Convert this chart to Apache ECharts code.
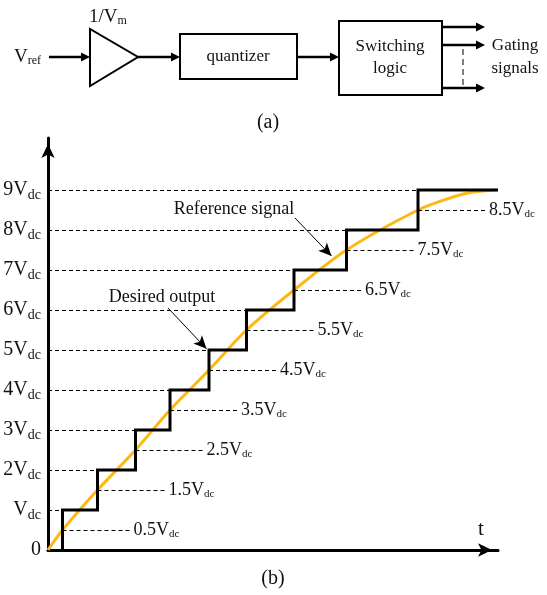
<!DOCTYPE html>
<html>
<head>
<meta charset="utf-8">
<script src="https://cdn.jsdelivr.net/npm/echarts@6/dist/echarts.min.js"></script>
<style>
  html, body { margin: 0; padding: 0; background: #fff; }
  #chart { width: 547px; height: 595px; }
</style>
</head>
<body>
<div id="chart"></div>
<script>
// Quantized staircase (desired output) against a smooth reference signal.
// Time axis runs 0..450 (arbitrary units), voltage in multiples of Vdc.

// Voltage levels reached by the staircase
const levels = [1, 2, 3, 4, 5, 6, 7, 8, 9];
// Time instants at which the staircase steps up to the next level
const stepTimes = [14.5, 49.5, 87.5, 122, 161, 198.5, 246, 298.5, 370];
const stepEndTime = 450;

// Switching thresholds (half levels) with their labels
const halfLevels = [0.5, 1.5, 2.5, 3.5, 4.5, 5.5, 6.5, 7.5, 8.5];
const halfLabels = ['0.5V', '1.5V', '2.5V', '3.5V', '4.5V', '5.5V', '6.5V', '7.5V', '8.5V'];

// Reference signal samples
const refTimes = [0, 14.5, 49.5, 87.5, 122, 161, 198.5, 246, 298.5, 370, 402, 425, 449];
const refValues = [0, 0.5, 1.5, 2.5, 3.5, 4.5, 5.5, 6.5, 7.5, 8.5, 8.8, 8.95, 9];
// Faded tail of the reference signal
const refTailTimes = [461, 472];
const refTailValues = [9, 9];

// Y tick labels (value -> main text, subscript)
const yTickValues = [0, 1, 2, 3, 4, 5, 6, 7, 8, 9];
const yTickMain = ['0', 'V', '2V', '3V', '4V', '5V', '6V', '7V', '8V', '9V'];
const yTickSub = ['', 'dc', 'dc', 'dc', 'dc', 'dc', 'dc', 'dc', 'dc', 'dc'];

const SERIF = "'Liberation Serif', 'Times New Roman', serif";
const ORANGE = '#FDB813';
const LABEL_RUN = 68; // length of threshold leader lines

// Staircase vertices built from the step instants
const stairData = [[stepTimes[0], 0]];
stepTimes.forEach((t, i) => {
  stairData.push([t, levels[i]]);
  const next = i + 1 < stepTimes.length ? stepTimes[i + 1] : stepEndTime;
  stairData.push([next, levels[i]]);
});

const refData = refTimes.map((t, i) => [t, refValues[i]]);
const tailData = refTailTimes.map((t, i) => [t, refTailValues[i]]);

// Dashed lines from the vertical axis to each step corner
const levelLines = levels.map((v, i) => [
  { coord: [0, v] },
  { coord: [stepTimes[i], v], label: { show: false } }
]);
// Dashed threshold leaders with their labels
const halfLines = halfLevels.map((v, i) => [
  { coord: [stepTimes[i], v] },
  {
    coord: [stepTimes[i] + LABEL_RUN, v],
    label: {
      show: true,
      position: 'end',
      distance: 3,
      formatter: '{m|' + halfLabels[i] + '}{s|dc}',
      rich: {
        m: { fontFamily: SERIF, fontSize: 18, color: '#111' },
        s: { fontFamily: SERIF, fontSize: 11, color: '#111', padding: [9, 0, 0, 0] }
      }
    }
  }
]);

// Annotation arrows (start -> tip)
const arrowDesired = [[120, 6.05], [158.5, 5.03]];
const arrowReference = [[247, 8.3], [283.5, 7.35]];

const chart = echarts.init(document.getElementById('chart'), null, { renderer: 'canvas' });

function arrowHead(x, y) {
  return {
    type: 'polygon',
    shape: { points: [[x - 9, y - 4.5], [x, y], [x - 9, y + 4.5]] },
    style: { fill: '#000' }
  };
}
function hLine(x1, x2, y, w) {
  return {
    type: 'line',
    shape: { x1: x1, y1: y, x2: x2, y2: y },
    style: { stroke: '#000', lineWidth: w }
  };
}
function txt(x, y, text, size, align) {
  return {
    type: 'text',
    x: x, y: y,
    style: {
      text: text, fill: '#111', font: size + 'px ' + SERIF,
      align: align || 'center', verticalAlign: 'middle'
    }
  };
}

const axisLineStyle = {
  show: true,
  onZero: false,
  symbol: ['none', 'arrow'],
  symbolSize: [10, 14],
  symbolOffset: [0, -6],
  lineStyle: { color: '#000', width: 3 }
};

const option = {
  animation: false,
  backgroundColor: '#fff',
  grid: { left: 48, right: 49, top: 138, bottom: 45 },
  xAxis: {
    type: 'value',
    min: 0,
    max: 450,
    axisLine: axisLineStyle,
    axisTick: { show: false },
    axisLabel: { show: false },
    splitLine: { show: false }
  },
  yAxis: {
    type: 'value',
    min: 0,
    max: 10.3,
    interval: 1,
    axisLine: axisLineStyle,
    axisTick: { show: false },
    splitLine: { show: false },
    axisLabel: {
      margin: 7,
      formatter: function (v) {
        const i = yTickValues.indexOf(v);
        if (i < 0) return '';
        if (!yTickSub[i]) return '{m|' + yTickMain[i] + '}';
        return '{m|' + yTickMain[i] + '}{s|' + yTickSub[i] + '}';
      },
      rich: {
        m: { fontFamily: SERIF, fontSize: 20, color: '#111' },
        s: { fontFamily: SERIF, fontSize: 14, color: '#111', padding: [10, 0, 0, 0] }
      }
    }
  },
  series: [
    {
      name: 'Reference signal',
      type: 'line',
      data: refData,
      smooth: 0.3,
      showSymbol: false,
      lineStyle: { color: ORANGE, width: 3 },
      z: 3
    },
    {
      name: 'Reference tail',
      type: 'line',
      data: tailData,
      clip: false,
      showSymbol: false,
      lineStyle: { color: '#FCD98A', width: 2.5, type: [2, 5] },
      z: 3
    },
    {
      name: 'Desired output',
      type: 'line',
      data: stairData,
      showSymbol: false,
      lineStyle: { color: '#000', width: 3, join: 'miter' },
      z: 4,
      markLine: {
        silent: true,
        symbol: ['none', 'none'],
        lineStyle: { color: '#000', width: 1, type: [4, 3] },
        label: { show: false },
        data: levelLines.concat(halfLines)
      }
    },
    {
      name: 'Annotations',
      type: 'line',
      data: [],
      markLine: {
        silent: true,
        symbol: ['none', 'arrow'],
        symbolSize: [9, 13],
        lineStyle: { color: '#000', width: 1, type: 'solid' },
        label: { show: false },
        data: [
          [{ coord: arrowDesired[0] }, { coord: arrowDesired[1] }],
          [{ coord: arrowReference[0] }, { coord: arrowReference[1] }]
        ]
      }
    }
  ],
  graphic: [
    // (a) block diagram
    {
      type: 'text', x: 14, y: 57,
      style: {
        text: '{m|V}{s|ref}', verticalAlign: 'middle', align: 'left',
        rich: {
          m: { fontFamily: SERIF, fontSize: 19, fill: '#111' },
          s: { fontFamily: SERIF, fontSize: 12, fill: '#111', padding: [8, 0, 0, 0] }
        }
      }
    },
    hLine(49, 83, 57, 2.5), arrowHead(90, 57),
    {
      type: 'polygon',
      shape: { points: [[90, 29], [90, 86], [138, 57]] },
      style: { fill: '#fff', stroke: '#000', lineWidth: 2 }
    },
    {
      type: 'text', x: 89, y: 17,
      style: {
        text: '{m|1/V}{s|m}', verticalAlign: 'middle', align: 'left',
        rich: {
          m: { fontFamily: SERIF, fontSize: 19, fill: '#111' },
          s: { fontFamily: SERIF, fontSize: 12, fill: '#111', padding: [8, 0, 0, 0] }
        }
      }
    },
    hLine(138, 173, 57, 2.5), arrowHead(180, 57),
    {
      type: 'rect', shape: { x: 180, y: 34, width: 117, height: 45 },
      style: { fill: 'none', stroke: '#000', lineWidth: 2 }
    },
    txt(238, 57, 'quantizer', 17),
    hLine(297, 332, 57, 2.5), arrowHead(339, 57),
    {
      type: 'rect', shape: { x: 339, y: 21, width: 103, height: 74 },
      style: { fill: 'none', stroke: '#000', lineWidth: 2 }
    },
    txt(390, 47, 'Switching', 17),
    txt(390, 69, 'logic', 17),
    hLine(442, 478, 27, 2.5), arrowHead(485, 27),
    hLine(442, 478, 45, 2.5), arrowHead(485, 45),
    hLine(442, 478, 88, 2.5), arrowHead(485, 88),
    {
      type: 'line', shape: { x1: 463, y1: 49, x2: 463, y2: 85 },
      style: { stroke: '#000', lineWidth: 1, lineDash: [6, 4] }
    },
    txt(515, 46, 'Gating', 17),
    txt(515, 69, 'signals', 17),
    txt(268, 123, '(a)', 20),
    // (b) annotations
    txt(234, 209, 'Reference signal', 18),
    txt(162, 297, 'Desired output', 18),
    txt(481, 529, 't', 21),
    txt(273, 579, '(b)', 20)
  ]
};

chart.setOption(option);
</script>
</body>
</html>
